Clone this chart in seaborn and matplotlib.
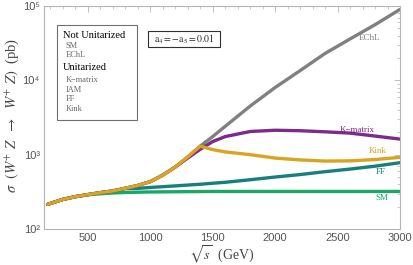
import numpy as np
import pandas as pd
import matplotlib
matplotlib.use("Agg")
import matplotlib.pyplot as plt
from matplotlib.ticker import FixedLocator, FixedFormatter, MultipleLocator, LogLocator, NullFormatter
from matplotlib.patches import Rectangle
import seaborn as sns

# 数据 (sqrt(s) in GeV, sigma in pb)
x_sm = [180, 300, 400, 500, 600, 700, 800, 1000, 1500, 2000, 2500, 3000]
y_sm = [215, 250, 272, 288, 298, 305, 310, 315, 320, 320, 320, 320]

x_ff = [180, 300, 400, 500, 600, 700, 800, 900, 1000, 1200, 1400, 1600, 1800, 2000, 2200, 2400, 2600, 2800, 3000]
y_ff = [215, 250, 272, 290, 308, 325, 350, 352, 362, 380, 400, 425, 460, 500, 540, 590, 640, 700, 780]

x_common = [180, 300, 400, 500, 600, 700, 800, 900, 1000, 1100, 1200, 1300, 1400]
y_common = [215, 250, 272, 290, 308, 325, 353, 385, 433, 530, 680, 930, 1300]

x_echl = [1500, 1600, 1800, 2000, 2200, 2400, 2600, 2800, 3000]
y_echl = [1750, 2400, 4500, 8000, 13500, 23000, 36000, 56000, 90000]

x_kmat = [1500, 1600, 1800, 2000, 2200, 2400, 2600, 2800, 3000]
y_kmat = [1500, 1750, 2050, 2130, 2100, 2030, 1950, 1780, 1620]

x_kink = [1500, 1600, 1800, 2000, 2200, 2400, 2600, 2800, 3000]
y_kink = [1170, 1090, 1000, 900, 850, 820, 825, 860, 920]

colors = {"EChL": "#808080", "K-matrix": "#7d2a8c", "Kink": "#d9a420",
          "FF": "#17807e", "SM": "#19a866"}

rows = []
for name, xs, ys in [("SM", x_sm, y_sm), ("FF", x_ff, y_ff),
                     ("EChL", x_common + x_echl, y_common + y_echl),
                     ("K-matrix", x_common[:-2] + [1300, 1400] + x_kmat,
                      y_common[:-2] + [900, 1180] + y_kmat),
                     ("Kink", x_common + x_kink, y_common + y_kink)]:
    for a, b in zip(xs, ys):
        rows.append({"model": name, "sqrts": a, "sigma": b})
df = pd.DataFrame(rows)

sns.set_style("white")
plt.rcParams['font.family'] = ['Liberation Serif', 'DejaVu Serif']
plt.rcParams['mathtext.fontset'] = 'stix'

fig = plt.figure(figsize=(4.13, 2.65), dpi=100)
ax = fig.add_axes([44/413, 1-229/265, (400-44)/413, (229-6)/265])

order = ["SM", "FF", "EChL", "K-matrix", "Kink"]
sns.lineplot(data=df, x="sqrts", y="sigma", hue="model", hue_order=order,
             palette=colors, linewidth=2.4, legend=False, ax=ax, sort=False)

ax.set_yscale("log")
ax.set_xlim(150, 3000)
ax.set_ylim(100, 100000)

ax.xaxis.set_major_locator(FixedLocator([500, 1000, 1500, 2000, 2500, 3000]))
ax.xaxis.set_minor_locator(MultipleLocator(100))
ax.yaxis.set_major_locator(FixedLocator([1e2, 1e3, 1e4, 1e5]))
ax.yaxis.set_major_formatter(FixedFormatter(["10²", "10³", "10⁴", "10⁵"]))
ax.yaxis.set_minor_locator(LogLocator(base=10, subs=np.arange(2, 10)))
ax.yaxis.set_minor_formatter(NullFormatter())

ax.tick_params(which="both", direction="in", top=True, right=True, color="#b5b5b5",
               labelcolor="#555555", labelsize=8)
ax.tick_params(which="major", length=4, width=0.6, pad=3)
ax.tick_params(which="minor", length=2, width=0.5)
for lab in ax.get_xticklabels() + ax.get_yticklabels():
    lab.set_family(['Liberation Sans', 'DejaVu Sans'])
for s in ax.spines.values():
    s.set_color("#b5b5b5")
    s.set_linewidth(0.8)

ax.set_xlabel(r"$\sqrt{s}$  (GeV)", fontsize=10, color="#444444")
ax.xaxis.set_label_coords(0.5, -(255 - 229) / 223)
ax.xaxis.label.set_va("center")
ax.set_ylabel(r"$\sigma\ \ (W^{+}\ Z\ \ \rightarrow\ \ W^{+}\ Z)\ $ (pb)", fontsize=10.5, color="#444444")
ax.yaxis.set_label_coords(-(44 - 12) / 356, (229 - 115) / 223)
ax.yaxis.label.set_va("center")

# 曲线标签
def px(x, y):
    return x / 413, 1 - y / 265

for txt, (x, y), c in [("EChL", (370, 38), colors["EChL"]),
                       ("K−matrix", (357, 130), colors["K-matrix"]),
                       ("Kink", (378, 151), colors["Kink"]),
                       ("FF", (381, 172), colors["FF"]),
                       ("SM", (382, 198), colors["SM"])]:
    fig.text(*px(x, y), txt, color=c, fontsize=6.5, ha="center", va="center")

# 图例框
fig.patches.append(Rectangle(px(56.5, 119.5), 80.5/413, 95/265, transform=fig.transFigure,
                             fill=False, edgecolor="#707070", linewidth=0.8))
legend_items = [("Not Unitarized", 35, True), ("SM", 46, False), ("EChL", 55, False),
                ("Unitarized", 68, True), ("K−matrix", 80, False), ("IAM", 90, False),
                ("FF", 99, False), ("Kink", 109, False)]
for txt, y, head in legend_items:
    if head:
        fig.text(*px(63, y), txt, color="black", fontsize=7.5, ha="left", va="center")
    else:
        fig.text(*px(66, y), txt, color="#666666", fontsize=6, ha="left", va="center")

fig.patches.append(Rectangle(px(148, 46.5), 72/413, 15.5/265, transform=fig.transFigure,
                             fill=False, edgecolor="#303030", linewidth=0.8))
fig.text(*px(184, 39), r"$\mathrm{a}_4 = -\mathrm{a}_5 = 0.01$", fontsize=7, ha="center", va="center")

fig.savefig("out.png", dpi=100)
